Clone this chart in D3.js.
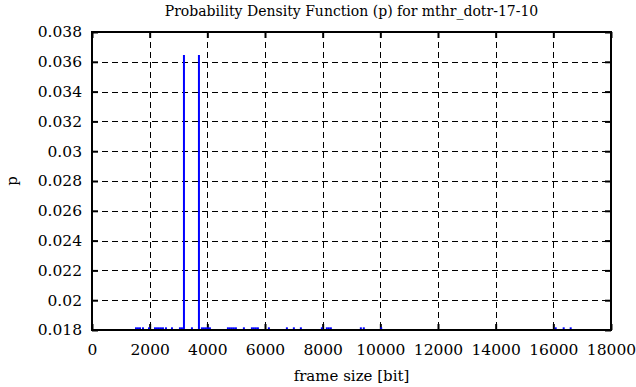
<!DOCTYPE html>
<html>
<head>
<meta charset="utf-8">
<script src="https://cdn.jsdelivr.net/npm/d3@7"></script>
<style>
  body { margin: 0; background: #fff; }
  text { font-family: "DejaVu Serif", "Liberation Serif", serif; fill: #000; }
</style>
</head>
<body>
<div id="chart"></div>
<script>
// frame sizes [bit] and their probabilities
var frameSizes = [1525, 1594, 1664, 1768, 1976, 2184, 2253, 2322, 2392, 2461, 2565, 2773,
    3050, 3119, 3189, 3466, 3709, 3813, 3882, 3951, 4021, 4090, 4714, 4783, 4852, 4921, 4991,
    5268, 5546, 5615, 5684, 5754, 6135, 6759, 7001, 7244, 7972, 8145, 8214, 8284, 9324, 9427,
    10030, 16082, 16359, 16602];
var probs = [0.01818, 0.01818, 0.01818, 0.01818, 0.01818, 0.01818, 0.01818, 0.01818, 0.01818,
    0.01818, 0.01818, 0.01818, 0.01818, 0.01818, 0.03645, 0.01818, 0.03645, 0.01818, 0.01818,
    0.01818, 0.01818, 0.01818, 0.01818, 0.01818, 0.01818, 0.01818, 0.01818, 0.01818, 0.01818,
    0.01818, 0.01818, 0.01818, 0.01818, 0.01818, 0.01818, 0.01818, 0.01818, 0.01818, 0.01818,
    0.01818, 0.01818, 0.01818, 0.01818, 0.01818, 0.01818, 0.01818];
var xTicks = [0, 2000, 4000, 6000, 8000, 10000, 12000, 14000, 16000, 18000];
var yTicks = [0.018, 0.02, 0.022, 0.024, 0.026, 0.028, 0.03, 0.032, 0.034, 0.036, 0.038];

var W = 636, H = 387;
var margin = {top: 32, right: 25, bottom: 57, left: 92};
var width = W - margin.left - margin.right;
var height = H - margin.top - margin.bottom;

var svg = d3.select("#chart").append("svg")
    .attr("width", W)
    .attr("height", H);

var g = svg.append("g")
    .attr("transform", "translate(" + margin.left + "," + margin.top + ")");

// Scales
var x = d3.scaleLinear().domain([0, 18000]).range([0, width]);
var y = d3.scaleLinear().domain([0.018, 0.038]).range([height, 0]);

// Grid (dashed)
g.append("g").selectAll("line")
    .data(xTicks.slice(1, -1))
    .enter().append("line")
    .attr("x1", function(d) { return Math.round(x(d)) + 0.5; })
    .attr("x2", function(d) { return Math.round(x(d)) + 0.5; })
    .attr("y1", 0).attr("y2", height)
    .attr("stroke", "#000").attr("stroke-dasharray", "6,4");

g.append("g").selectAll("line")
    .data(yTicks.slice(1, -1))
    .enter().append("line")
    .attr("y1", function(d) { return Math.round(y(d)) + 0.5; })
    .attr("y2", function(d) { return Math.round(y(d)) + 0.5; })
    .attr("x1", 0).attr("x2", width)
    .attr("stroke", "#000").attr("stroke-dasharray", "6,4");

// Axes (inside ticks on all four sides)
var xAxisB = d3.axisBottom(x).tickValues(xTicks).tickSizeInner(-6).tickSizeOuter(0).tickPadding(14)
    .tickFormat(d3.format("d"));
var xAxisT = d3.axisTop(x).tickValues(xTicks).tickSizeInner(-6).tickSizeOuter(0).tickFormat("");
var yAxisL = d3.axisLeft(y).tickValues(yTicks).tickSizeInner(-6).tickSizeOuter(0).tickPadding(10)
    .tickFormat(function(d) { return d3.format("")(+d.toFixed(3)); });
var yAxisR = d3.axisRight(y).tickValues(yTicks).tickSizeInner(-6).tickSizeOuter(0).tickFormat("");

[[xAxisB, "translate(0," + height + ")"], [xAxisT, "translate(0,0)"],
 [yAxisL, "translate(0,0)"], [yAxisR, "translate(" + width + ",0)"]].forEach(function(a) {
    var ax = g.append("g").attr("transform", a[1]).call(a[0]);
    ax.select(".domain").remove();
    ax.selectAll("line").attr("stroke", "#000").attr("stroke-width", 2);
    ax.selectAll("text").attr("font-size", 15.5).attr("font-family", "DejaVu Serif");
});

// Impulses (drawn over the ticks)
g.append("g").selectAll("line")
    .data(frameSizes)
    .enter().append("line")
    .attr("x1", function(d) { return x(d); })
    .attr("x2", function(d) { return x(d); })
    .attr("y1", height)
    .attr("y2", function(d, i) { return y(probs[i]); })
    .attr("stroke", "#0000ff")
    .attr("stroke-width", 2);

// Border
g.append("rect")
    .attr("x", 0).attr("y", 0)
    .attr("width", width).attr("height", height)
    .attr("fill", "none").attr("stroke", "#000").attr("stroke-width", 2);

// Labels
svg.append("text")
    .attr("x", margin.left + width / 2).attr("y", 16)
    .attr("text-anchor", "middle").attr("font-size", 14)
    .text("Probability Density Function (p) for mthr_dotr-17-10");

svg.append("text")
    .attr("x", margin.left + width / 2).attr("y", 381)
    .attr("text-anchor", "middle").attr("font-size", 15)
    .text("frame size [bit]");

svg.append("text")
    .attr("transform", "translate(17," + (margin.top + height / 2) + ")rotate(-90)")
    .attr("text-anchor", "middle").attr("font-size", 15)
    .text("p");
</script>
</body>
</html>
